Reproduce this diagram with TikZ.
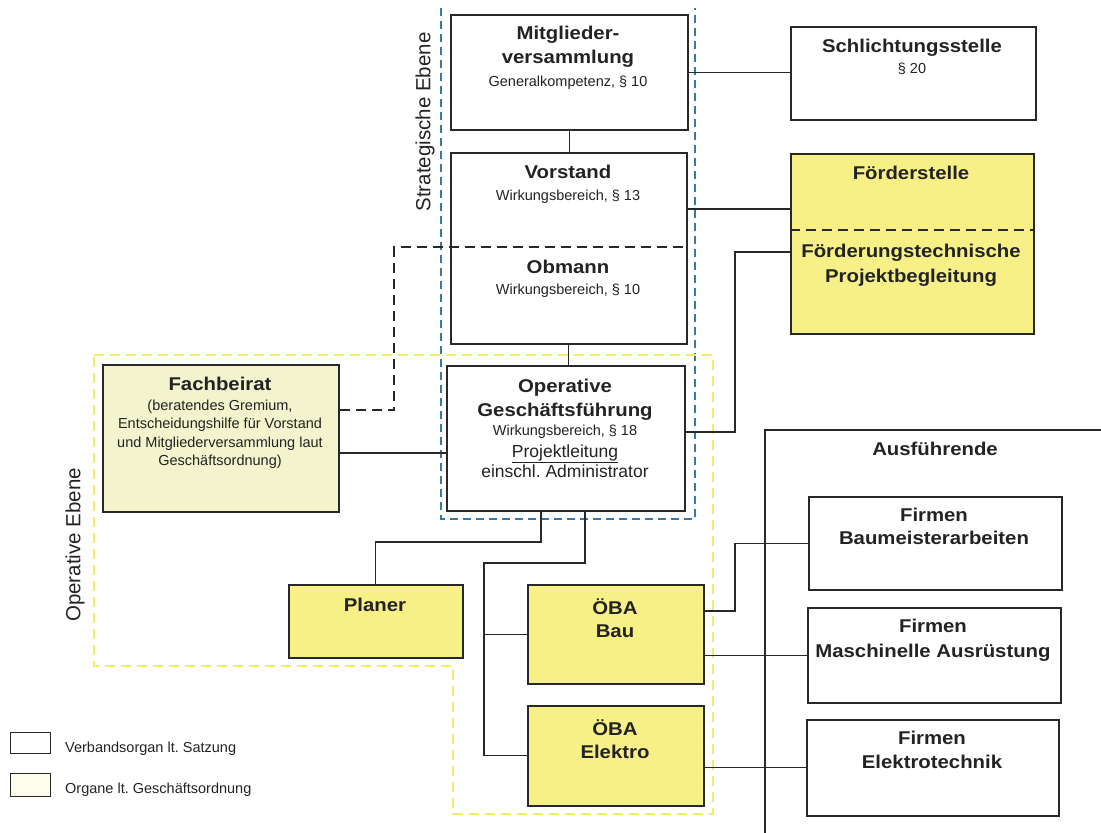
\documentclass[tikz,border=0pt]{standalone}
\usepackage{fontspec}
\setmainfont{Liberation Sans}
\newfontfamily\wfam[FakeStretch=1.1]{Liberation Sans}
\definecolor{lc}{RGB}{40,40,40}
\definecolor{tc}{RGB}{35,35,35}
\definecolor{yf}{RGB}{247,240,135}
\definecolor{fbf}{RGB}{243,243,205}
\definecolor{lgy}{RGB}{254,252,235}
\definecolor{bd}{RGB}{55,120,170}
\definecolor{yd}{RGB}{245,235,100}
\frenchspacing
\begin{document}
\frenchspacing
\begin{tikzpicture}[x=1pt,y=-1pt,
  box/.style={draw=lc, line width=1.5pt, inner sep=0pt, anchor=north west, fill=white},
  ybox/.style={box, fill=yf},
  ln/.style={draw=lc, line width=1.4pt},
  dln/.style={ln, dash pattern=on 10pt off 6pt},
  bluedash/.style={draw=bd, line width=1.8pt, dash pattern=on 8pt off 5pt},
  ydash/.style={draw=yd, line width=1.8pt, dash pattern=on 10pt off 6pt},
  tt/.style={anchor=base, inner sep=0pt, text=tc, font=\wfam\bfseries\fontsize{18.5}{22}\selectfont},
  st/.style={anchor=base, inner sep=0pt, text=tc, font=\fontsize{14.5}{17}\selectfont},
  mt/.style={anchor=base, inner sep=0pt, text=tc, font=\fontsize{17.5}{20}\selectfont},
  et/.style={anchor=center, inner sep=0pt, text=tc, rotate=90, font=\fontsize{20.5}{24}\selectfont}
]
\useasboundingbox (0,0) rectangle (1101,833);

% frames
\draw[bluedash] (441,8) -- (441,519) -- (695,519) -- (695,8);
\draw[ydash] (94,355) -- (713,355) -- (713,814) -- (453,814) -- (453,666) -- (94,666) -- cycle;
\draw[ln, line width=1.1pt] (765,833) -- (765,430) -- (1101,430);

% boxes
\node[box, minimum width=237pt, minimum height=115pt] (mv) at (450,14) {};
\node[box, minimum width=245pt, minimum height=93pt] (sc) at (790,26) {};
\node[box, minimum width=236pt, minimum height=191pt] (vo) at (450,152) {};
\node[ybox, minimum width=243pt, minimum height=180pt] (fs) at (790,153) {};
\node[box, minimum width=238pt, minimum height=145pt] (og) at (446,365) {};
\node[box, fill=fbf, minimum width=236pt, minimum height=147pt] (fb) at (102,364) {};
\node[ybox, minimum width=174pt, minimum height=73pt] (pl) at (288,584) {};
\node[ybox, minimum width=176pt, minimum height=99pt] (ob) at (527,584) {};
\node[ybox, minimum width=176pt, minimum height=100pt] (oe) at (527,705) {};
\node[box, minimum width=253pt, minimum height=93pt] (f1) at (808,496) {};
\node[box, minimum width=253pt, minimum height=95pt] (f2) at (807,607) {};
\node[box, minimum width=252pt, minimum height=96pt] (f3) at (806,719) {};
\node[box, minimum width=40pt, minimum height=21pt, line width=1.2pt] (lg1) at (10,732) {};
\node[box, fill=lgy, minimum width=40pt, minimum height=23pt, line width=1.2pt] (lg2) at (10,773) {};

% level coordinates
\coordinate (y230) at (0,230);
\coordinate (l209) at (0,209);
\coordinate (l432) at (735,432);
\coordinate (l252) at (735,252);
\coordinate (l453) at (0,453);
\coordinate (d1) at (394,410);
\coordinate (d2) at (394,247);
\coordinate (b1) at (541,542);
\coordinate (b2) at (585,563);
\coordinate (b3) at (484,563);
\coordinate (r1) at (735,611);

% Foerderstelle divider
\draw[dln] (fs.west |- y230) -- (fs.east |- y230);

% connectors
\draw[ln] (mv.south) -- (mv.south |- vo.north);
\draw[ln] (mv.east) -- (sc.west |- mv.east);
\draw[ln] (vo.south) -- (vo.south |- og.north);
\draw[ln] (vo.east |- l209) -- (fs.west |- l209);
\draw[ln] (og.east |- l432) -- (l432) -- (l252) -- (fs.west |- l252);
\draw[ln] (fb.east |- l453) -- (og.west |- l453);
\draw[dln] (fb.east |- d1) -- (d1) -- (d2) -- (vo.east |- d2);
\draw[ln] (og.south -| b1) -- (b1) -- (pl.north |- b1) -- (pl.north);
\draw[ln] (og.south -| b2) -- (b2) -- (b3) -- (b3 |- oe.west) -- (oe.west);
\draw[ln] (b3 |- ob.west) -- (ob.west);
\draw[ln] (ob.east |- r1) -- (r1) -- (r1 |- f1.west) -- (f1.west);
\draw[ln] (ob.east |- f2.west) -- (f2.west);
\draw[ln] (oe.east |- f3.west) -- (f3.west);

% texts
\node[tt] (t1) at (568,39) {Mitglieder-};
\node[tt] (t2) at (568,63) {versammlung};
\node[st] (t3) at (568,86) {Generalkompetenz, § 10};
\node[tt] (t4) at (912,52) {Schlichtungsstelle};
\node[st] (t5) at (912,73) {§ 20};
\node[tt] (t6) at (568,178) {Vorstand};
\node[st] (t7) at (568,200) {Wirkungsbereich, § 13};
\node[tt] (t8) at (568,273) {Obmann};
\node[st] (t9) at (568,294) {Wirkungsbereich, § 10};
\node[tt] (t10) at (911,179) {Förderstelle};
\node[tt] (t11) at (911,257) {Förderungstechnische};
\node[tt] (t12) at (911,282) {Projektbegleitung};
\node[tt] (t13) at (220,390) {Fachbeirat};
\node[st] (t14) at (220,410) {(beratendes Gremium,};
\node[st] (t15) at (220,428) {Entscheidungshilfe für Vorstand};
\node[st] (t16) at (220,447) {und Mitgliederversammlung laut};
\node[st] (t17) at (220,465) {Geschäftsordnung)};
\node[tt] (t18) at (565,392) {Operative};
\node[tt] (t19) at (565,416) {Geschäftsführung};
\node[st] (t20) at (565,435) {Wirkungsbereich, § 18};
\node[mt] (t21) at (565,457) {\underline{Projektleitung}};
\node[mt] (t22) at (565,477) {einschl.\ Administrator};
\node[tt] (t23) at (375,611) {Planer};
\node[tt] (t24) at (615,614) {ÖBA};
\node[tt] (t25) at (615,637) {Bau};
\node[tt] (t26) at (615,735) {ÖBA};
\node[tt] (t27) at (615,758) {Elektro};
\node[tt] (t28) at (935,455) {Ausführende};
\node[tt] (t29) at (934,521) {Firmen};
\node[tt] (t30) at (934,544) {Baumeisterarbeiten};
\node[tt] (t31) at (933,632) {Firmen};
\node[tt] (t32) at (933,657) {Maschinelle Ausrüstung};
\node[tt] (t33) at (932,744) {Firmen};
\node[tt] (t34) at (932,768) {Elektrotechnik};
\node[st, anchor=base west] (t35) at (65,752) {Verbandsorgan lt.\ Satzung};
\node[st, anchor=base west] (t36) at (65,793) {Organe lt.\ Geschäftsordnung};
\node[et] (t37) at (425,122) {Strategische Ebene};
\node[et] (t38) at (75,545) {Operative Ebene};
\end{tikzpicture}
\end{document}
